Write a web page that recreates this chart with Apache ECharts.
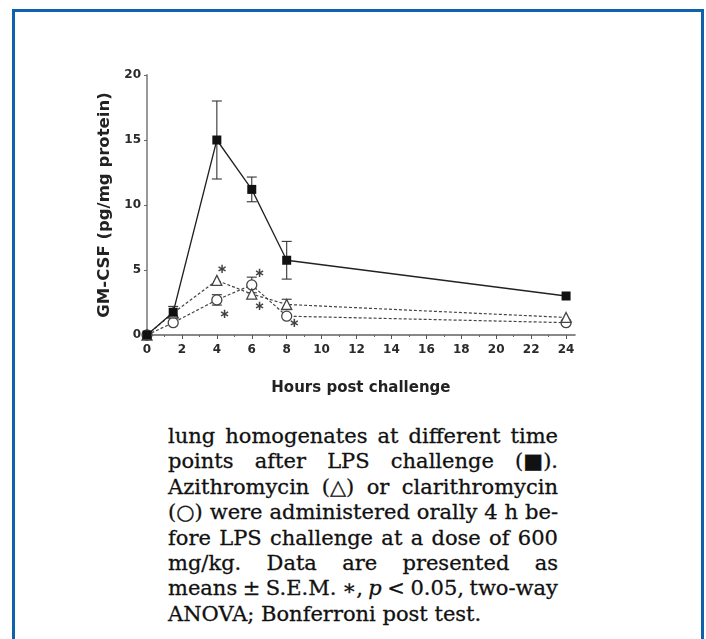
<!DOCTYPE html>
<html><head><meta charset="utf-8">
<script src="https://cdn.jsdelivr.net/npm/echarts@6/dist/echarts.min.js"></script>
<style>
html,body{margin:0;padding:0;background:#fff;width:706px;height:639px;overflow:hidden;}
#frame{position:absolute;left:12px;top:9px;width:692px;height:720px;border:3px solid #0e62ad;box-sizing:border-box;}
#chart{position:absolute;left:0;top:0;width:706px;height:410px;}
#caption{position:absolute;left:168px;top:424px;width:390px;font-family:"DejaVu Serif",serif;font-size:21px;line-height:25.4px;color:#111;-webkit-text-stroke:0.3px #111;}
.ln{display:flex;justify-content:space-between;white-space:nowrap;height:25.4px;}
.last{white-space:nowrap;height:25.4px;}
</style></head>
<body>
<div id="frame"></div>
<div id="chart"></div>
<div id="caption"></div>
<script>
// ---- data ----
const hours = [0, 1.5, 4, 6, 8, 24];
const lpsValues = [0, 1.75, 15.0, 11.2, 5.75, 3.0];
const aziValues = [0, 1.7, 4.2, 3.15, 2.35, 1.35];
const claValues = [0, 0.95, 2.7, 3.85, 1.45, 0.95];
const lpsSem = [0, 0.45, 3.0, 0.95, 1.45, 0];
const aziSem = [0, 0, 0, 0, 0.4, 0];
const claSem = [0, 0, 0.4, 0.6, 0, 0];
const starX = [4.3, 4.45, 6.45, 6.45, 8.45];
const starY = [5.0, 1.6, 4.75, 2.2, 0.85];
const xTicks = [0, 2, 4, 6, 8, 10, 12, 14, 16, 18, 20, 22, 24];
const xMinorTicks = [1, 3, 5, 7, 9, 11, 13, 15, 17, 19, 21, 23];
const yMin = 0, yMax = 20, yStep = 5;
const xName = 'Hours post challenge';
const yName = 'GM-CSF (pg/mg protein)';
const captionLines = [
  'lung homogenates at different time',
  'points after LPS challenge (■).',
  'Azithromycin (△) or clarithromycin',
  '(○) were administered orally 4 h be-',
  'fore LPS challenge at a dose of 600',
  'mg/kg. Data are presented as',
  'means ± S.E.M. ∗, <i>p</i> &lt; 0.05, two-way',
  'ANOVA; Bonferroni post test.'
];

// ---- caption ----
const cap = document.getElementById('caption');
captionLines.forEach((line, i) => {
  const d = document.createElement('div');
  if (i < captionLines.length - 1) {
    d.className = 'ln';
    d.innerHTML = line.split(' ').map(w => '<span>' + w + '</span>').join('');
  } else {
    d.className = 'last';
    d.innerHTML = line;
  }
  cap.appendChild(d);
});

// ---- chart ----
const tickFont = {fontFamily: 'DejaVu Sans', fontWeight: 'bold', fontSize: 12, color: '#2a2a2a'};
function pairs(vals) { return hours.map((h, i) => [h, vals[i]]); }
function errSeries(vals, sem) {
  const data = [];
  hours.forEach((h, i) => { if (sem[i] > 0) data.push([h, vals[i] - sem[i], vals[i] + sem[i]]); });
  return {
    type: 'custom', xAxisIndex: 0, yAxisIndex: 0, z: 1, silent: true, data,
    encode: {x: 0, y: [1, 2]},
    renderItem(params, api) {
      const x = api.value(0);
      const lo = api.coord([x, api.value(1)]);
      const hi = api.coord([x, api.value(2)]);
      const hw = 5;
      const st = {stroke: '#333', lineWidth: 1.1};
      return {type: 'group', children: [
        {type: 'line', shape: {x1: lo[0], y1: lo[1], x2: hi[0], y2: hi[1]}, style: st},
        {type: 'line', shape: {x1: hi[0] - hw, y1: hi[1], x2: hi[0] + hw, y2: hi[1]}, style: st},
        {type: 'line', shape: {x1: lo[0] - hw, y1: lo[1], x2: lo[0] + hw, y2: lo[1]}, style: st}
      ]};
    }
  };
}

const chart = echarts.init(document.getElementById('chart'), null, {renderer: 'canvas'});
chart.setOption({
  animation: false,
  backgroundColor: 'transparent',
  grid: {left: 147, top: 75, width: 427.8, height: 260, outerBoundsMode: 'none'},
  xAxis: [{
    type: 'value', min: 0, max: 24.5, position: 'bottom',
    name: xName, nameLocation: 'middle', nameGap: 46,
    nameTextStyle: {fontFamily: 'DejaVu Sans', fontWeight: 'bold', fontSize: 15, color: '#222'},
    axisLine: {show: true, onZero: false, lineStyle: {color: '#888', width: 2}},
    axisTick: {show: true, customValues: xTicks, length: 4, lineStyle: {color: '#555', width: 1}},
    axisLabel: Object.assign({customValues: xTicks, margin: 9}, tickFont),
    splitLine: {show: false}
  }, {
    type: 'value', min: 0, max: 24.5, position: 'bottom',
    axisLine: {show: false},
    axisTick: {show: true, customValues: xMinorTicks, length: 2, lineStyle: {color: '#666', width: 1}},
    axisLabel: {show: false},
    splitLine: {show: false}
  }],
  yAxis: {
    type: 'value', min: yMin, max: yMax, interval: yStep,
    name: yName, nameLocation: 'middle', nameGap: 21,
    nameTextStyle: {fontFamily: 'DejaVu Sans', fontWeight: 'bold', fontSize: 16.5, color: '#222'},
    axisLine: {show: true, lineStyle: {color: '#999', width: 2}},
    axisTick: {show: true, length: 3, lineStyle: {color: '#666', width: 1}},
    axisLabel: Object.assign({margin: 6}, tickFont),
    splitLine: {show: false}
  },
  series: [
    errSeries(lpsValues, lpsSem),
    errSeries(aziValues, aziSem),
    errSeries(claValues, claSem),
    {
      name: 'Clarithromycin', type: 'line', data: pairs(claValues), z: 2,
      symbol: 'circle', symbolSize: 10,
      lineStyle: {color: '#444', width: 1.2, type: [3, 2]},
      itemStyle: {color: '#fff', borderColor: '#444', borderWidth: 1.3}
    },
    {
      name: 'Azithromycin', type: 'line', data: pairs(aziValues), z: 3,
      symbol: 'triangle', symbolSize: 10,
      lineStyle: {color: '#444', width: 1.2, type: [3, 2]},
      itemStyle: {color: '#fff', borderColor: '#444', borderWidth: 1.3}
    },
    {
      name: 'LPS', type: 'line', data: pairs(lpsValues), z: 4,
      symbol: 'rect', symbolSize: 9,
      lineStyle: {color: '#222', width: 1.3},
      itemStyle: {color: '#111', borderColor: '#111', borderWidth: 0}
    },
    {
      name: 'significance', type: 'scatter', z: 5, silent: true,
      data: starX.map((x, i) => [x, starY[i]]),
      symbol: 'circle', symbolSize: 2, itemStyle: {color: 'rgba(0,0,0,0)'},
      label: {show: true, position: 'inside', formatter: '∗', fontFamily: 'DejaVu Sans', fontWeight: 'bold', fontSize: 13, color: '#111'}
    }
  ]
});
</script>
</body></html>
